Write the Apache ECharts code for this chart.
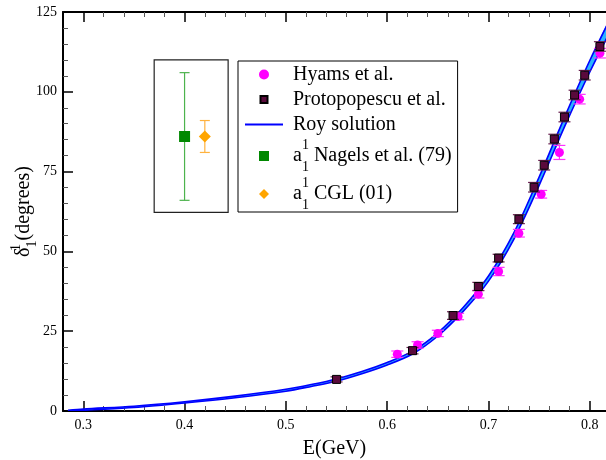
<!DOCTYPE html>
<html>
<head>
<meta charset="utf-8">
<script src="https://cdn.jsdelivr.net/npm/echarts@6/dist/echarts.min.js"></script>
<style>
  html, body { margin: 0; padding: 0; background: #fff; }
  #chart { width: 606px; height: 460px; }
</style>
</head>
<body>
<div id="chart"></div>
<script>
// Hyams et al. (magenta circles)
const hyamsE = [0.61, 0.63, 0.65, 0.67, 0.69, 0.71, 0.73, 0.752, 0.77, 0.79, 0.81];
const hyamsD = [17.8, 20.7, 24.3, 29.6, 36.6, 43.7, 55.7, 67.9, 81.0, 97.7, 112.1];
const hyamsErr = [1, 1, 1, 1, 1.2, 1.3, 1.2, 1.2, 2.2, 1.5, 1.5];

// Protopopescu et al. (dark squares)
const protoE = [0.55, 0.625, 0.665, 0.69, 0.71, 0.73, 0.745, 0.755, 0.765, 0.775, 0.785, 0.795, 0.81];
const protoD = [9.9, 18.9, 29.9, 39.0, 47.9, 60.1, 70.1, 77.0, 85.2, 92.1, 99.0, 105.2, 114.2];
const protoErr = [0.8, 1, 1.2, 1.3, 1.2, 1.4, 1.5, 1.5, 1.5, 1.5, 1.5, 1.5, 1.5];

// Roy solution: central curve and half width of the band
const royE = [0.285, 0.30, 0.35, 0.40, 0.45, 0.50, 0.525, 0.55, 0.575, 0.60, 0.625, 0.65, 0.675, 0.70, 0.725, 0.75, 0.775, 0.80, 0.825];
const royD = [0, 0.4, 1.3, 2.7, 4.4, 6.5, 8.0, 9.7, 12.0, 14.8, 18.3, 24.0, 31.8, 41.5, 54.8, 72.0, 90.5, 108, 124];
const roySpread = [0.2, 0.2, 0.2, 0.2, 0.25, 0.3, 0.3, 0.35, 0.35, 0.4, 0.45, 0.5, 0.6, 0.8, 1.0, 1.3, 1.5, 1.8, 2.0];

// a_1^1 values (inset): energy, value, error
const nagels = [0.40, 86, 20];
const cgl = [0.42, 86, 5];

// tick labels
const xMajorTicks = [0.3, 0.4, 0.5, 0.6, 0.7, 0.8];
const xMinorTicks = [0.32, 0.34, 0.36, 0.38, 0.42, 0.44, 0.46, 0.48, 0.52, 0.54, 0.56, 0.58,
                     0.62, 0.64, 0.66, 0.68, 0.72, 0.74, 0.76, 0.78];

const font = 'Liberation Serif';
const chart = echarts.init(document.getElementById('chart'));

const rich = {
    m: { fontFamily: font, fontSize: 20, lineHeight: 36, color: '#000' },
    sup: { fontFamily: font, fontSize: 14, lineHeight: 16, width: 0, verticalAlign: 'top', color: '#000' },
    sub: { fontFamily: font, fontSize: 14, lineHeight: 14, verticalAlign: 'bottom', color: '#000' }
};
const nameRich = {
    m: { fontFamily: font, fontSize: 20, lineHeight: 30, color: '#000' },
    sup: { fontFamily: font, fontSize: 14, lineHeight: 14, width: 0, verticalAlign: 'top', color: '#000' },
    sub: { fontFamily: font, fontSize: 14, lineHeight: 12, verticalAlign: 'bottom', color: '#000' }
};

function errorBars(capHalf, color, width) {
    return function (params, api) {
        const x = api.value(0);
        const lo = api.coord([x, api.value(1)]);
        const hi = api.coord([x, api.value(2)]);
        const st = { stroke: color, lineWidth: width };
        return {
            type: 'group',
            children: [
                { type: 'line', shape: { x1: lo[0], y1: lo[1], x2: hi[0], y2: hi[1] }, style: st },
                { type: 'line', shape: { x1: lo[0] - capHalf, y1: lo[1], x2: lo[0] + capHalf, y2: lo[1] }, style: st },
                { type: 'line', shape: { x1: hi[0] - capHalf, y1: hi[1], x2: hi[0] + capHalf, y2: hi[1] }, style: st }
            ]
        };
    };
}

const xBase = { type: 'value', min: 0.28, max: 0.816, splitLine: { show: false } };

const option = {
    animation: false,
    grid: { left: 63, right: 0, top: 12, bottom: 49, containLabel: false, outerBoundsMode: 'none' },
    xAxis: [
        Object.assign({}, xBase, {
            position: 'bottom',
            axisLine: { lineStyle: { color: '#000', width: 2 } },
            axisTick: { inside: true, length: 10, customValues: xMajorTicks, lineStyle: { color: '#000', width: 1.5 } },
            axisLabel: { customValues: xMajorTicks, fontFamily: font, fontSize: 14, color: '#000', margin: 7 },
            name: 'E(GeV)', nameLocation: 'middle', nameGap: 28,
            nameTextStyle: { fontFamily: font, fontSize: 20, color: '#000' }
        }),
        Object.assign({}, xBase, {
            position: 'bottom',
            axisLine: { show: false },
            axisTick: { inside: true, length: 5, customValues: xMinorTicks, lineStyle: { color: '#555' } },
            axisLabel: { show: false }
        }),
        Object.assign({}, xBase, {
            position: 'top',
            axisLine: { lineStyle: { color: '#000', width: 2 } },
            axisTick: { inside: true, length: 10, customValues: xMajorTicks, lineStyle: { color: '#000', width: 1.5 } },
            axisLabel: { show: false }
        }),
        Object.assign({}, xBase, {
            position: 'top',
            axisLine: { show: false },
            axisTick: { inside: true, length: 5, customValues: xMinorTicks, lineStyle: { color: '#555' } },
            axisLabel: { show: false }
        })
    ],
    yAxis: {
        type: 'value', min: 0, max: 125, interval: 25,
        axisLine: { show: true, lineStyle: { color: '#000', width: 2 } },
        axisTick: { show: true, inside: true, length: 10, lineStyle: { color: '#000', width: 1.5 } },
        minorTick: { show: true, splitNumber: 5, length: 5, lineStyle: { color: '#555' } },
        axisLabel: { fontFamily: font, fontSize: 14, color: '#000', margin: 6 },
        splitLine: { show: false },
        name: '{m|δ}{sup|1}{sub|1}{m|(degrees)}',
        nameLocation: 'middle', nameRotate: 90, nameGap: 24, nameMoveOverlap: false,
        nameTextStyle: { rich: nameRich }
    },
    legend: {
        orient: 'vertical',
        left: 238, top: 61,
        padding: [2, 6, 0, 7],
        itemGap: 2,
        itemWidth: 38, itemHeight: 10,
        borderColor: '#000', borderWidth: 1,
        textStyle: { fontFamily: font, fontSize: 20, color: '#000', lineHeight: 23, rich: rich },
        formatter: function (name) {
            if (name === 'Nagels et al. (79)' || name === 'CGL (01)') {
                return '{m| a}{sup|1}{sub|1}{m| ' + name + '}';
            }
            return ' ' + name;
        },
        data: [
            { name: 'Hyams et al.', icon: 'circle' },
            { name: 'Protopopescu et al.', icon: 'path://M0,0M10,10M1.5,1.5h7v7h-7z' },
            { name: 'Roy solution', icon: 'path://M0,0H38V2H0Z', itemStyle: { color: '#0000ff' } },
            { name: 'Nagels et al. (79)', icon: 'path://M0,0h10v10h-10z' },
            { name: 'CGL (01)', icon: 'path://M5.5,0L11,5.5L5.5,11L0,5.5Z' }
        ]
    },
    series: [
        {
            name: 'Roy solution', type: 'custom', clip: true, z: 2,
            itemStyle: { color: '#0000ff' },
            data: [[0.5, 50]],
            renderItem: function (params, api) {
                const up = royE.map((e, i) => api.coord([e, royD[i] + roySpread[i]]));
                const lo = royE.map((e, i) => api.coord([e, royD[i] - roySpread[i]]));
                return {
                    type: 'group',
                    children: [
                        { type: 'polygon', shape: { points: up.concat(lo.slice().reverse()), smooth: 0.3 }, style: { fill: '#2ab4ff' } },
                        { type: 'polyline', shape: { points: up, smooth: 0.3 }, style: { stroke: '#0000ff', lineWidth: 1.6, fill: null } },
                        { type: 'polyline', shape: { points: lo, smooth: 0.3 }, style: { stroke: '#0000ff', lineWidth: 1.6, fill: null } }
                    ]
                };
            }
        },
        {
            type: 'custom', z: 3, clip: true,
            data: hyamsE.map((e, i) => [e, hyamsD[i] - hyamsErr[i], hyamsD[i] + hyamsErr[i]]),
            renderItem: errorBars(6, '#ff33ff', 1.2)
        },
        {
            name: 'Hyams et al.', type: 'scatter', z: 4,
            symbol: 'circle', symbolSize: 9,
            itemStyle: { color: '#ff00ff', opacity: 1 },
            data: hyamsE.map((e, i) => [e, hyamsD[i]])
        },
        {
            type: 'custom', z: 5, clip: true,
            data: protoE.map((e, i) => [e, protoD[i] - protoErr[i], protoD[i] + protoErr[i]]),
            renderItem: errorBars(6, '#6a2050', 1.2)
        },
        {
            name: 'Protopopescu et al.', type: 'scatter', z: 6,
            symbol: 'rect', symbolSize: 8,
            itemStyle: { color: '#5a0a3c', borderColor: '#000', borderWidth: 1, opacity: 1 },
            data: protoE.map((e, i) => [e, protoD[i]])
        },
        {
            type: 'custom', z: 3,
            data: [[nagels[0], nagels[1] - nagels[2], nagels[1] + nagels[2]]],
            renderItem: errorBars(5, '#4db34d', 1.2)
        },
        {
            name: 'Nagels et al. (79)', type: 'scatter', z: 4,
            symbol: 'rect', symbolSize: 11,
            itemStyle: { color: '#008800', opacity: 1 },
            data: [[nagels[0], nagels[1]]],
            markArea: {
                silent: true,
                itemStyle: { color: 'rgba(0,0,0,0)', borderColor: '#222', borderWidth: 1.2 },
                data: [[{ coord: [0.37, 110] }, { coord: [0.443, 62.2] }]]
            }
        },
        {
            type: 'custom', z: 3,
            data: [[cgl[0], cgl[1] - cgl[2], cgl[1] + cgl[2]]],
            renderItem: errorBars(5, '#ffb23f', 1.2)
        },
        {
            name: 'CGL (01)', type: 'scatter', z: 4,
            symbol: 'diamond', symbolSize: 12,
            itemStyle: { color: '#ffa500', opacity: 1 },
            data: [[cgl[0], cgl[1]]]
        }
    ]
};

chart.setOption(option);
</script>
</body>
</html>
